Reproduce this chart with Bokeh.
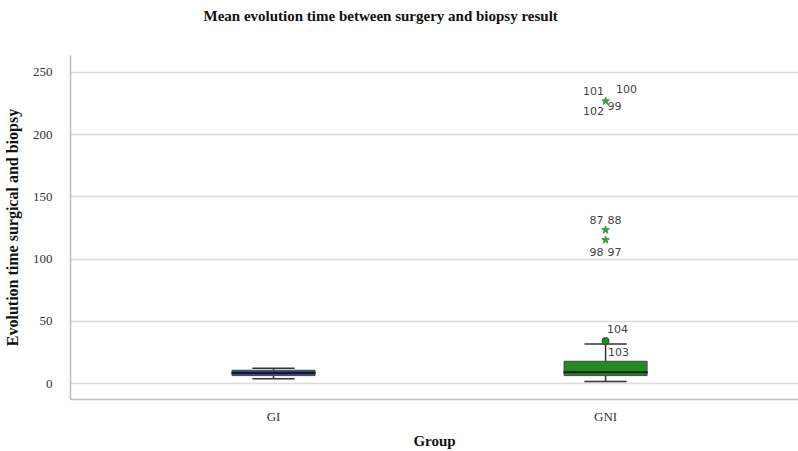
from bokeh.plotting import figure
from bokeh.models import FixedTicker, ColumnDataSource, Range1d, Title
from bokeh.embed import file_html
from bokeh.resources import INLINE
from bokeh.core.properties import value

# ---- data ----
groups = ["GI", "GNI"]
group_pos = [1, 2]
q1 = [6.4, 6.4]
median = [8.5, 9.0]
q3 = [10.7, 17.9]
lower_whisker = [3.8, 1.6]
upper_whisker = [12.3, 31.8]
box_colors = ["#2b4a94", "#238b23"]

# outliers (circles) in GNI
outlier_group = [2]
outlier_values = [34.2]
outlier_labels = ["104", "103"]
outlier_label_values = [34.2, 34.2]

# extremes (stars) in GNI
extreme_group = [2, 2, 2]
extreme_values = [227.0, 123.4, 115.4]
extreme_labels = ["101", "100", "102", "99", "87", "88", "98", "97"]
extreme_label_values = [227.0, 227.0, 227.0, 227.0, 123.4, 123.4, 115.4, 115.4]

y_ticks = [0, 50, 100, 150, 200, 250]
title_text = "Mean evolution time between surgery and biopsy result"

# label offsets (style, screen px; positive y = down)
outlier_dx = [12, 13]
outlier_dy = [-12, 11]
extreme_dx = [-12, 21, -12, 9, -9, 9, -9, 9]
extreme_dy = [-10, -12, 10, 5, -10, -10, 12, 12]

serif = "Liberation Serif"

p = figure(width=798, height=451, output_backend="svg", toolbar_location=None,
           title_location=None,
           x_range=Range1d(0.3886, 2.581), y_range=Range1d(-12.8, 263.6),
           min_border_left=70, min_border_right=0, min_border_top=55, min_border_bottom=51)
p.outline_line_color = None
p.background_fill_color = "white"
p.border_fill_color = "white"

# spacer panel next to the frame, then the real title above it
p.add_layout(Title(text=" ", text_font_size="13px", standoff=10), "above")
p.add_layout(Title(text=title_text, text_font=serif, text_font_size="15px",
                   text_font_style="bold", text_color="#111111", align="left",
                   offset=133, standoff=10), "above")

# grid
p.xgrid.grid_line_color = None
p.ygrid.grid_line_color = "#dcdcdc"
p.ygrid.grid_line_width = 1.5
p.yaxis.ticker = FixedTicker(ticks=y_ticks)
p.xaxis.ticker = FixedTicker(ticks=group_pos)
p.xaxis.major_label_overrides = {pos: g for pos, g in zip(group_pos, groups)}

for ax in (p.xaxis[0], p.yaxis[0]):
    ax.major_tick_line_color = None
    ax.minor_tick_line_color = None
    ax.axis_line_color = "#bdbdbd"
    ax.axis_line_width = 1.5
    ax.major_label_text_font = serif
    ax.major_label_text_font_size = "13px"
    ax.major_label_text_color = "#333333"
    ax.axis_label_text_font = serif
    ax.axis_label_text_font_style = "bold"
    ax.axis_label_text_color = "#111111"

p.yaxis.axis_label_text_font_size = "16px"
p.xaxis.axis_label_text_font_size = "15px"
p.yaxis.axis_label = "Evolution time surgical and biopsy"
p.xaxis.axis_label = "Group"
p.yaxis.major_label_standoff = 12
p.yaxis.axis_label_standoff = 9
p.xaxis.major_label_standoff = 3
p.xaxis.axis_label_standoff = 6

src = ColumnDataSource(dict(x=group_pos, q1=q1, med=median, q3=q3,
                            lo=lower_whisker, hi=upper_whisker, color=box_colors))

# whisker
p.segment(x0="x", y0="lo", x1="x", y1="hi", source=src, line_color="#333333", line_width=1.5)
# caps
p.rect(x="x", y="lo", width=0.125, height=0.01, source=src, line_color="#333333",
       line_width=1.5, fill_color=None)
p.rect(x="x", y="hi", width=0.125, height=0.01, source=src, line_color="#333333",
       line_width=1.5, fill_color=None)
# box
p.vbar(x="x", bottom="q1", top="q3", width=0.25, source=src, fill_color="color",
       line_color="#444444", line_width=1)
# median
p.rect(x="x", y="med", width=0.25, height=0.01, source=src, line_color="#1a1a1a",
       line_width=2, fill_color=None)

# outliers
p.scatter(outlier_group, outlier_values, marker="circle", size=7,
          fill_color="#238b23", line_color="#1f5f1f")
p.text([2] * len(outlier_labels), outlier_label_values, text=outlier_labels,
       x_offset=outlier_dx, y_offset=outlier_dy, text_align="center", text_baseline="middle",
       text_font=value("DejaVu Sans"), text_font_size="11px", text_color="#444444")

# extremes
p.scatter(extreme_group, extreme_values, marker="star", size=8,
          fill_color="#3a9a3a", line_color="#3a9a3a")
p.text([2] * len(extreme_labels), extreme_label_values, text=extreme_labels,
       x_offset=extreme_dx, y_offset=extreme_dy, text_align="center", text_baseline="middle",
       text_font=value("DejaVu Sans"), text_font_size="11px", text_color="#444444")

open("out.html", "w").write(file_html(p, INLINE))
